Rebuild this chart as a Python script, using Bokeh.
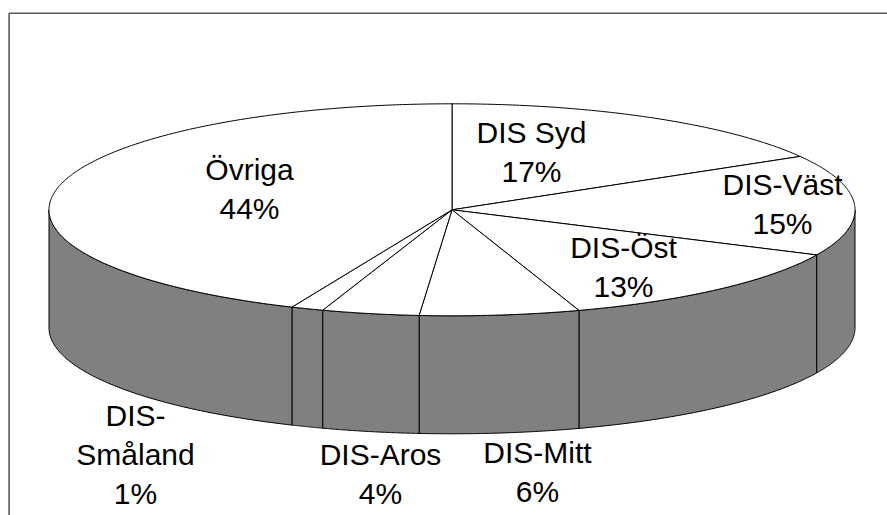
import numpy as np
from bokeh.plotting import figure
from bokeh.models import Range1d
from bokeh.core.properties import value
from bokeh.embed import file_html
from bokeh.resources import INLINE

# ---- data ----
names = ["DIS Syd", "DIS-Väst", "DIS-Öst", "DIS-Mitt", "DIS-Aros", "DIS-Småland", "Övriga"]
values = [16.6, 15.4, 12.9, 6.4, 3.9, 1.3, 43.5]
pct_labels = ["17%", "15%", "13%", "6%", "4%", "1%", "44%"]

# ---- layout (page pixel coordinates) ----
W, H = 887, 515
CX, CY = 451.5, 209.3
RX, RY = 403.0, 106.0
DEPTH = 118.0
FONT = "Liberation Sans"
FS = "30px"
LINE_H = 39.0
BASE_SHIFT = -11.0
# label block: (center x, first baseline y, list of name lines)
label_layout = {
    "DIS Syd": (531, 143, ["DIS Syd"]),
    "DIS-Väst": (782, 195, ["DIS-Väst"]),
    "DIS-Öst": (623, 258, ["DIS-Öst"]),
    "DIS-Mitt": (537, 463, ["DIS-Mitt"]),
    "DIS-Aros": (380, 465, ["DIS-Aros"]),
    "DIS-Småland": (135, 426, ["DIS-", "Småland"]),
    "Övriga": (249, 180, ["Övriga"]),
}

p = figure(width=W, height=H, output_backend="svg", toolbar_location=None,
           x_range=Range1d(0, W), y_range=Range1d(H, 0), min_border=0)
p.axis.visible = False
p.grid.visible = False
p.outline_line_color = None
p.background_fill_color = "white"
p.border_fill_color = "white"

total = float(sum(values))
fr = np.array(values) / total
cum = np.concatenate([[0.0], np.cumsum(fr)]) * 360.0


def pt(theta_deg, dy=0.0):
    t = np.radians(theta_deg)
    return CX + RX * np.sin(t), CY - RY * np.cos(t) + dy


# side faces (front half, 90..270 deg)
sx, sy = [], []
for i in range(len(values)):
    a, b = cum[i], cum[i + 1]
    lo, hi = max(a, 90.0), min(b, 270.0)
    if lo < hi:
        th = np.linspace(lo, hi, 80)
        tx, ty = pt(th)
        bx, by = pt(th[::-1], DEPTH)
        sx.append(list(tx) + list(bx))
        sy.append(list(ty) + list(by))
p.patches(sx, sy, fill_color="#808080", line_color="black", line_width=1)

# top faces
px, py = [], []
for i in range(len(values)):
    a, b = cum[i], cum[i + 1]
    th = np.linspace(a, b, max(10, int((b - a) * 2)))
    tx, ty = pt(th)
    px.append([CX] + list(tx))
    py.append([CY] + list(ty))
p.patches(px, py, fill_color="white", line_color="black", line_width=1)

# labels
lx, ly, lt = [], [], []
for name, pl in zip(names, pct_labels):
    x0, y0, lines = label_layout[name]
    all_lines = lines + [pl]
    for k, s in enumerate(all_lines):
        lx.append(x0)
        ly.append(y0 + k * LINE_H + BASE_SHIFT)
        lt.append(s)
p.text(lx, ly, text=lt, text_font=value(FONT), text_font_size=FS,
       text_align="center", text_baseline="alphabetic", text_color="black")

# chart frame (left and top edge visible)
p.line([8.6, 8.6, W + 20], [H + 20, 12.7, 12.7], line_color="#5a5a5a", line_width=1.6)

open("out.html", "w").write(file_html(p, INLINE))
